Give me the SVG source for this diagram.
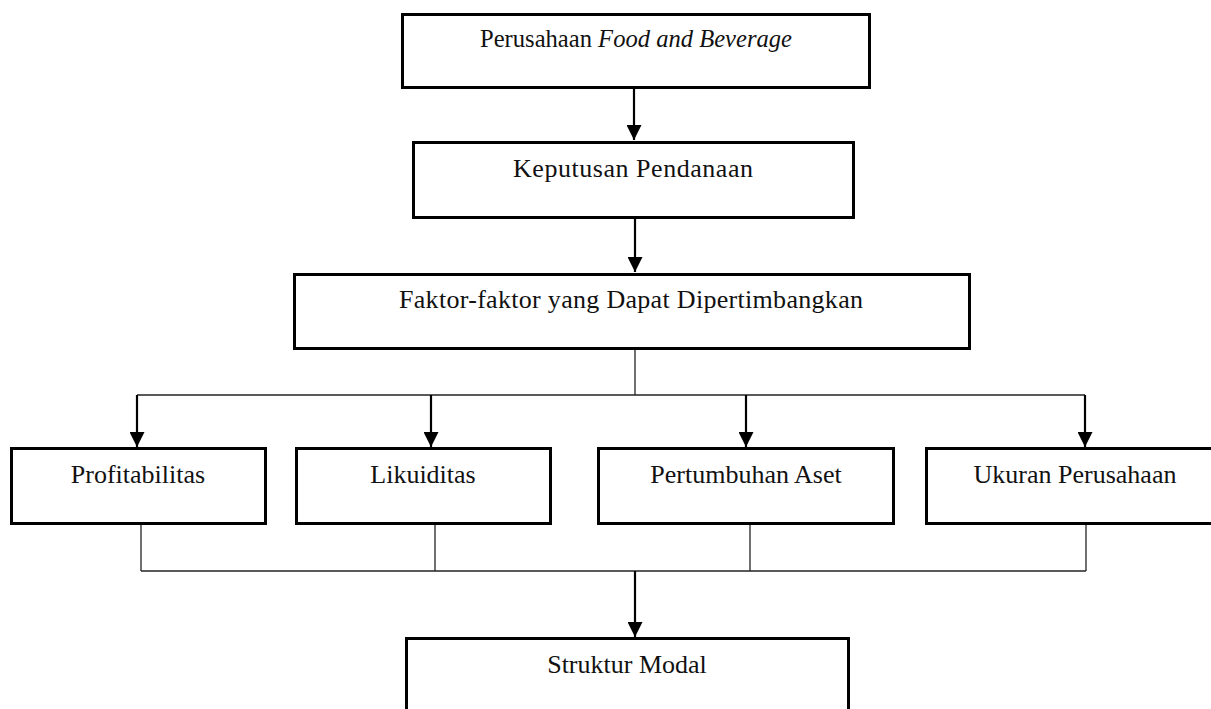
<svg xmlns="http://www.w3.org/2000/svg" width="1211" height="709" viewBox="0 0 1211 709">
<style>
.box{fill:#fff;stroke:#000;stroke-width:3}
.lbl{font-family:"Liberation Serif","Times New Roman",serif;font-size:26px;fill:#111;text-anchor:middle}
.thin{fill:none;stroke:#222;stroke-width:1.3}
.arr{fill:none;stroke:#000;stroke-width:2.2;marker-end:url(#ah)}
</style>
<defs>
<marker id="ah" viewBox="0 0 10 10" refX="10" refY="5" markerWidth="15" markerHeight="15" markerUnits="userSpaceOnUse" orient="auto">
<path d="M0,0 L10,5 L0,10 z" fill="#000"/>
</marker>
</defs>
<rect width="1211" height="709" fill="#fff"/>
<g id="connectors">
<line class="arr" x1="634" y1="89" x2="634" y2="140"/>
<line class="arr" x1="635" y1="219" x2="635" y2="272"/>
<polyline class="thin" points="635,350 635,395"/>
<line class="thin" x1="137" y1="395" x2="1085" y2="395"/>
<line class="arr" x1="137" y1="395" x2="137" y2="447"/>
<line class="arr" x1="431" y1="395" x2="431" y2="447"/>
<line class="arr" x1="746" y1="395" x2="746" y2="447"/>
<line class="arr" x1="1085" y1="395" x2="1085" y2="447"/>
<line class="thin" x1="141" y1="525" x2="141" y2="571"/>
<line class="thin" x1="435" y1="525" x2="435" y2="571"/>
<line class="thin" x1="750" y1="525" x2="750" y2="571"/>
<line class="thin" x1="1086" y1="525" x2="1086" y2="571"/>
<line class="thin" x1="141" y1="571" x2="1086" y2="571"/>
<line class="arr" x1="635" y1="571" x2="635" y2="637"/>
</g>
<g id="perusahaan">
<rect class="box" x="402.5" y="14.5" width="467" height="73"/>
<text class="lbl" x="636" y="47" textLength="312" lengthAdjust="spacingAndGlyphs">Perusahaan <tspan font-style="italic">Food and Beverage</tspan></text>
</g>
<g id="keputusan">
<rect class="box" x="413.5" y="142.5" width="440" height="75"/>
<text class="lbl" x="633" y="177" textLength="240">Keputusan Pendanaan</text>
</g>
<g id="faktor">
<rect class="box" x="294.5" y="274.5" width="675" height="74"/>
<text class="lbl" x="631" y="308" textLength="464">Faktor-faktor yang Dapat Dipertimbangkan</text>
</g>
<g id="profitabilitas">
<rect class="box" x="11.5" y="448.5" width="254" height="75"/>
<text class="lbl" x="138" y="483">Profitabilitas</text>
</g>
<g id="likuiditas">
<rect class="box" x="296.5" y="448.5" width="254" height="75"/>
<text class="lbl" x="423" y="483">Likuiditas</text>
</g>
<g id="pertumbuhan">
<rect class="box" x="598.5" y="448.5" width="295" height="75"/>
<text class="lbl" x="746" y="483">Pertumbuhan Aset</text>
</g>
<g id="ukuran">
<rect class="box" x="926.5" y="448.5" width="297" height="75"/>
<text class="lbl" x="1075" y="483">Ukuran Perusahaan</text>
</g>
<g id="struktur">
<rect class="box" x="406.5" y="638.5" width="442" height="100"/>
<text class="lbl" x="627" y="673">Struktur Modal</text>
</g>
</svg>
